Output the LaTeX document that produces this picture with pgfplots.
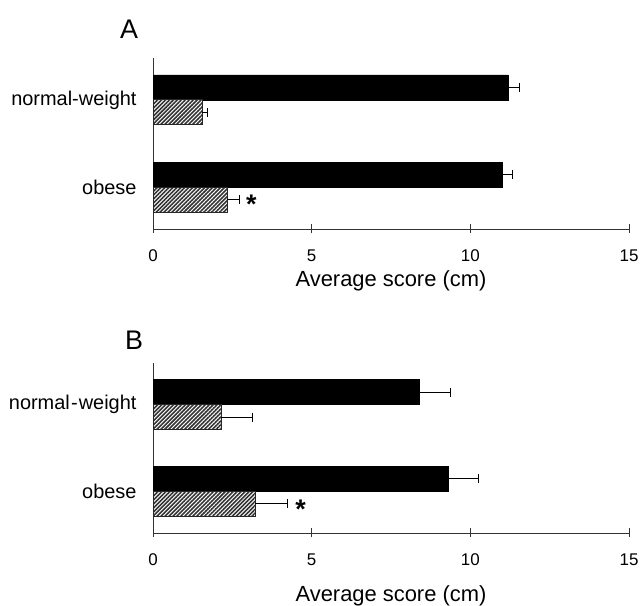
\documentclass[border=0pt]{standalone}
\usepackage{pgfplots}
\pgfplotsset{compat=1.18}
\usepackage{fontspec}
\setmainfont{Liberation Sans}
\usetikzlibrary{patterns.meta}

\pgfplotsset{
  panel/.style={
    scale only axis, width=476bp,
    xmin=0, xmax=15, ymin=-0.48, ymax=1.48,
    /pgf/number format/assume math mode=true,
    axis lines*=left, axis line style={-, line width=0.9bp, black!80},
    xtick={0,5,10,15}, xtick align=center, major tick length=9bp,
    x tick style={line width=0.9bp, black!80},
    ytick={0,1}, yticklabels={obese,normal-weight},
    y tick style={draw=none},
    xticklabel style={font=\fontsize{17}{20}\selectfont, yshift=-13bp},
    yticklabel style={font=\fontsize{20}{23}\selectfont, xshift=-4bp},
    xlabel={Average score (cm)},
    xlabel style={font=\fontsize{22}{26}\selectfont, at={(axis description cs:0.5,0)}, anchor=center, yshift=-52bp},
    xbar, bar width=25bp,
    error bars/x dir=plus, error bars/x explicit,
    error bars/error bar style={line width=1bp, black},
    error bars/error mark options={line width=1bp, black, mark size=4.5bp, rotate=90},
  },
  blackbar/.style={fill=black, draw=black, bar shift=12.5bp},
  hatchbar/.style={draw=black!85, line width=0.8bp, bar shift=-12.5bp,
    postaction={pattern={Lines[angle=45,distance=2.8bp,line width=1.6bp]}, pattern color=black!80}},
}

\begin{document}
\begin{tikzpicture}[x=1bp,y=1bp]
\useasboundingbox (0,0) rectangle (640,606);

\begin{axis}[panel, at={(153bp,377bp)}, anchor=south west, height=171bp]
\addplot[blackbar] coordinates {(11.19,1) +- (0.35,0) (11.00,0) +- (0.32,0)};
\addplot[hatchbar, fill=white] coordinates {(1.55,1) +- (0.18,0) (2.33,0) +- (0.38,0)};
\node[font=\bfseries\fontsize{27}{27}\selectfont, yshift=-5bp] at (axis cs:3.1,-0.143) {*};
\end{axis}

\begin{axis}[panel, at={(153bp,73bp)}, anchor=south west, height=170bp,
  yticklabels={obese,normal\kern1.2bp-\kern1.2bp weight},
  xlabel style={yshift=-11bp}]
\addplot[blackbar] coordinates {(8.38,1) +- (1.01,0) (9.30,0) +- (0.97,0)};
\addplot[hatchbar, fill=white] coordinates {(2.14,1) +- (0.98,0) (3.22,0) +- (1.01,0)};
\node[font=\bfseries\fontsize{27}{27}\selectfont, yshift=-5bp] at (axis cs:4.65,-0.143) {*};
\end{axis}

\node[font=\fontsize{27}{27}\selectfont] at (129,577) {A};
\node[font=\fontsize{27}{27}\selectfont] at (134,266) {B};
\end{tikzpicture}
\end{document}
